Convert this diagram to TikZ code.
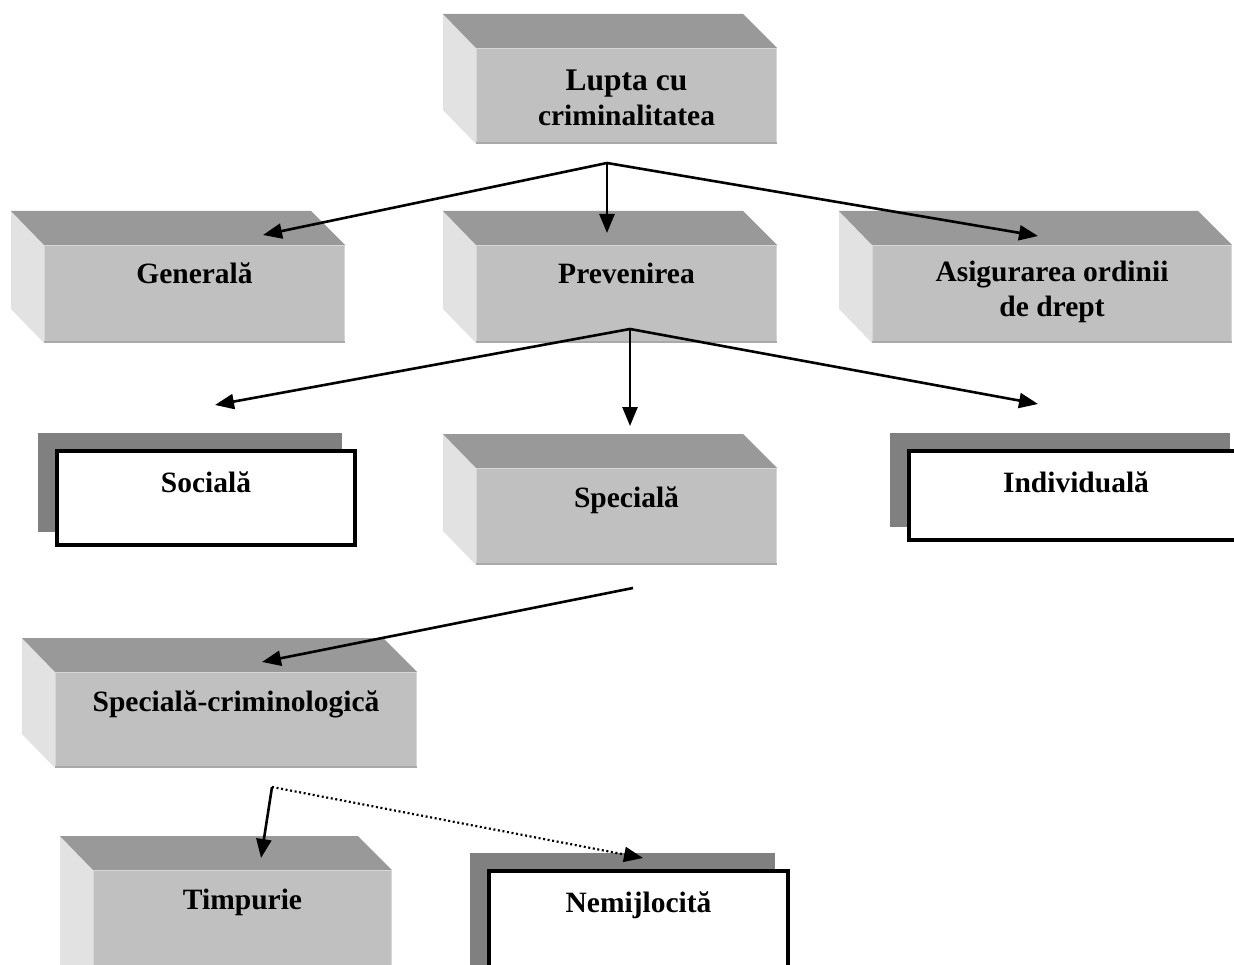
\documentclass[tikz,border=0pt]{standalone}
\usepackage{fontspec}
\setmainfont{Liberation Serif}
\usetikzlibrary{arrows.meta,calc}

\definecolor{topgray}{HTML}{999999}
\definecolor{frontgray}{HTML}{C0C0C0}
\definecolor{sidegray}{HTML}{E2E2E2}
\definecolor{shadowgray}{HTML}{808080}
\definecolor{edgelight}{HTML}{D6D6D6}
\definecolor{edgedark}{HTML}{A9A9A9}

\tikzset{
  arr/.style={line width=2.6pt, -{Triangle[length=19pt,width=15pt]}},
  dotarr/.style={line width=2.2pt, dash pattern=on 2pt off 2.6pt,
                 -{Triangle[length=19pt,width=15pt]}},
  lbl/.style={font=\fontsize{29.5}{35}\selectfont\bfseries, anchor=base,
              inner sep=0pt, align=center},
  frontface/.style={rectangle, fill=frontgray, inner sep=0pt, outer sep=0pt},
  flatface/.style={rectangle, fill=white, draw=black, line width=4pt,
                   inner sep=0pt, outer sep=0pt},
}

% 3-D block: [baseline offset of the last text line], name, front x1, y1, x2, y2, label
\newcommand\solidblock[7][39]{%
  \fill[sidegray] (#3-33,#4-34) -- (#3,#4) -- (#3,#6) -- (#3-33,#6-34) -- cycle;
  \fill[topgray] (#3-33,#4-34) -- (#5-34,#4-34) -- (#5,#4) -- (#3,#4) -- cycle;
  \node[frontface, minimum width=#5-#3, minimum height=#6-#4] (#2)
    at ({(#3+#5)/2},{(#4+#6)/2}) {};
  \draw[edgelight, line width=1.4pt] (#3+0.7,#6) -- (#3+0.7,#4+0.7)
    -- (#5-0.7,#4+0.7) -- (#5-0.7,#6);
  \draw[edgedark, line width=1.6pt] (#3,#6-0.8) -- (#5,#6-0.8);
  \node[lbl] (#2-t) at ($(#2.north)+(0,#1)$) {#7};
}

% framed block with a flat shadow: name, outer x1, y1, x2, y2, label
\newcommand\framedblock[6]{%
  \fill[shadowgray] (#2-17,#3-16) rectangle (#4-15,#5-15);
  \node[flatface, minimum width=#4-#2-4, minimum height=#5-#3-4] (#1)
    at ({(#2+#4)/2},{(#3+#5)/2}) {};
  \node[lbl] (#1-t) at ($(#1.north)+(0,41)$) {#6};
}

\begin{document}
\begin{tikzpicture}[x=1pt,y=-1pt]
  \useasboundingbox (0,0) rectangle (1234,965);
  \clip (0,0) rectangle (1234,965);

  % blocks
  \solidblock[78]{lupta}{476}{48}{777}{144}{\fontsize{31.5}{38}\selectfont Lupta cu\\criminalitatea}
  \solidblock{generala}{44}{245}{345}{343}{General\u{a}}
  \solidblock{prevenirea}{476}{245}{777}{343}{Prevenirea}
  \solidblock[72]{asigurarea}{872}{245}{1232}{343}{Asigurarea ordinii\\de drept}
  \framedblock{sociala}{55}{449}{357}{547}{Social\u{a}}
  \solidblock{speciala}{476}{468}{777}{565}{Special\u{a}}
  \framedblock{individuala}{907}{449}{1245}{542}{Individual\u{a}}
  \solidblock{specrim}{55}{672}{417}{768}{Special\u{a}-criminologic\u{a}}
  \solidblock{timpurie}{93}{870}{392}{1000}{Timpurie}
  \framedblock{nemijlocita}{487}{869}{790}{1000}{Nemijlocit\u{a}}

  % branching points and arrow ends
  \coordinate (j1) at (607,163);
  \coordinate (e-generala) at (263,235);
  \coordinate (e-prevenirea) at (607,233);
  \coordinate (e-asigurarea) at (1038,236);
  \coordinate (j2) at (630,329);
  \coordinate (e-sociala) at (215,405);
  \coordinate (e-speciala) at (630,426);
  \coordinate (e-individuala) at (1038,404);
  \coordinate (j3) at (633,588);
  \coordinate (e-specrim) at (262,662);
  \coordinate (j4) at (272,787);
  \coordinate (e-timpurie) at (261,858);
  \coordinate (e-nemijlocita) at (643,858);

  % connectors
  \draw[arr] (j1) -- (e-generala);
  \draw[arr] (j1) -- (e-prevenirea);
  \draw[arr] (j1) -- (e-asigurarea);
  \draw[arr] (j2) -- (e-sociala);
  \draw[arr] (j2) -- (e-speciala);
  \draw[arr] (j2) -- (e-individuala);
  \draw[arr] (j3) -- (e-specrim);
  \draw[arr] (j4) -- (e-timpurie);
  \draw[dotarr] (j4) -- (e-nemijlocita);
\end{tikzpicture}
\end{document}
